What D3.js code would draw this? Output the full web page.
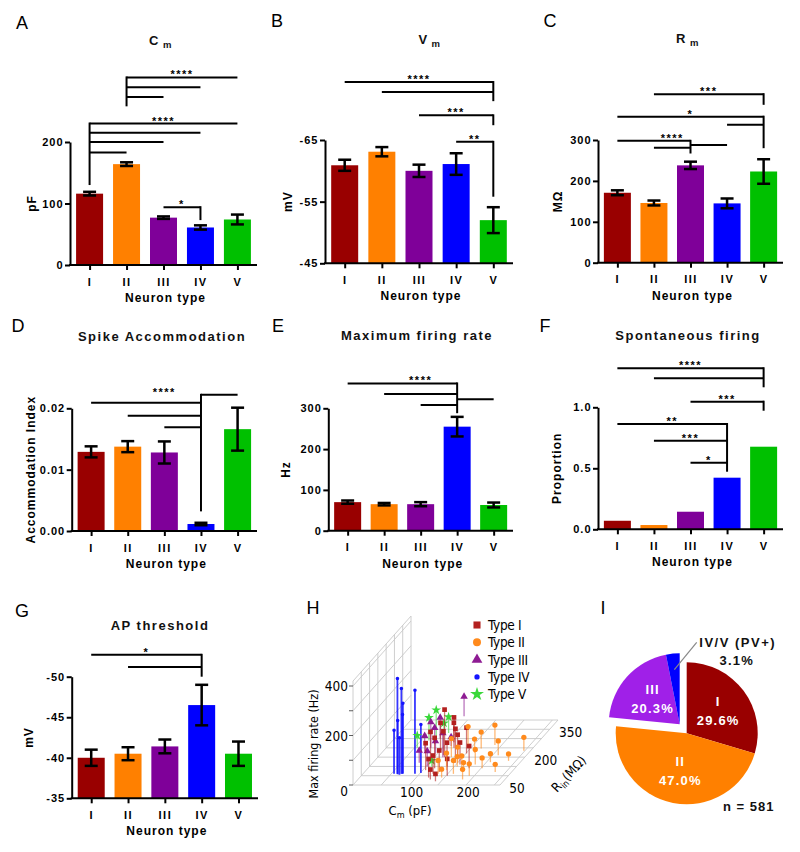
<!DOCTYPE html>
<html><head><meta charset="utf-8">
<script src="https://cdn.jsdelivr.net/npm/d3@7"></script>
<style>body{margin:0;background:#fff}svg{display:block}</style>
</head><body><svg id="c" width="800" height="852"></svg>
<script>
// ---------------- DATA ----------------
const neuronTypes = ["I","II","III","IV","V"];
const barColors = ["#990000","#FF8000","#7F0099","#0000FF","#00C000"];

const cmMean = [116,164,77,61,74], cmErr = [3,3,2,3.5,8];
const vmMean = [-60.9,-63.1,-60.0,-61.1,-52.0], vmErr = [0.9,0.75,1.0,1.75,2.1];
const rmMean = [171,146,238,145,223], rmErr = [6,6,9,12,30];
const accMean = [0.0129,0.01375,0.0128,0.00114,0.0166], accErr = [0.0009,0.0009,0.0018,0.0002,0.0035];
const rateMean = [70,65,65,255,63], rateErr = [4,3,5,24,6];
const propMean = [0.07,0.035,0.144,0.423,0.677];
const thrMean = [-40.0,-40.5,-41.4,-46.5,-40.5], thrErr = [1.0,0.8,0.85,2.5,1.5];

const cmTicks = [0,100,200];
const vmTicks = [-65,-55,-45];
const rmTicks = [0,100,200,300];
const accTicks = [0,0.01,0.02];
const rateTicks = [0,100,200,300];
const propTicks = [0,0.5,1.0];
const thrTicks = [-50,-45,-40,-35];

// significance brackets: ref bar, lower end of its vertical, [target, level, (own label)]
const cmSig = [
  {ref:"II", bottom:258, lines:[["V",305],["IV",289],["III",273]], label:"****"},
  {ref:"I", bottom:130, lines:[["V",230],["IV",215],["III",200],["II",183]], label:"****"},
  {ref:"IV", bottom:73, lines:[["III",94]], label:"*"}
];
const vmSig = [
  {ref:"V", bottom:-71.3, lines:[["I",-74.4],["II",-72.8]], label:"****"},
  {ref:"V", bottom:-67.4, lines:[["III",-69.0]], label:"***"},
  {ref:"V", bottom:-55.8, lines:[["IV",-64.7]], label:"**"}
];
const rmSig = [
  {ref:"V", bottom:386, lines:[["II",412]], label:"***"},
  {ref:"V", bottom:280, lines:[["I",357],["IV",337]], label:"*"},
  {ref:"III", bottom:267, lines:[["I",298],["II",281],["IV",288]], label:"****"}
];
const accSig = [
  {ref:"IV", bottom:0.0032, lines:[["V",0.0222],["I",0.0209],["II",0.0188],["III",0.0169]], label:"****"}
];
const rateSig = [
  {ref:"IV", bottom:288, lines:[["I",361],["II",335],["V",322],["III",308]], label:"****"}
];
const propSig = [
  {ref:"V", bottom:1.164, lines:[["I",1.32],["II",1.238]], label:"****"},
  {ref:"V", bottom:0.972, lines:[["III",1.046]], label:"***"},
  {ref:"IV", bottom:0.472, lines:[["I",0.863,"**"],["II",0.726,"***"],["III",0.546,"*"]]}
];
const thrSig = [
  {ref:"IV", bottom:-50.0, lines:[["I",-52.7],["II",-51.2]], label:"*"}
];

// Panel H: [Cm (pF), Rin (MOhm), max firing rate (Hz)]
const typeNames = ["Type I","Type II","Type III","Type IV","Type V"];
const typeColors = ["#B3201F","#FF8A1C","#8E1B93","#1414FF","#3AD83A"];
const typeI_pts = [[118,150,192],[146,120,137],[151,170,104],[118,90,123],[137,100,96],[132,70,87],[99,130,117],[120,200,123],[102,180,116],[157,110,89],[105,80,109],[152,50,68],[124,60,74],[144,140,98],[179,90,90],[113,160,97],[122,40,75],[111,230,79],[128,30,40],[140,20,30]];
const typeII_pts = [[188,215,81],[248,185,54],[207,123,34],[169,197,66],[164,174,55],[139,220,71],[142,80,69],[160,60,54],[166,90,50],[191,50,48],[145,40,34],[150,120,63],[184,110,61],[185,30,41],[202,90,42],[130,150,75],[133,60,54],[231,70,31],[237,130,28],[155,100,40],[175,70,38],[210,160,58]];
const typeIII_pts = [[88,370,80],[79,200,104],[80,220,66],[115,150,97],[82,120,49],[102,100,62],[81,250,85],[74,180,64],[112,210,36],[96,170,50]];
const typeIV_pts = [[55,60,176],[61,60,385],[68,60,345],[70,60,240],[70,62,284],[92,60,338],[101,65,196],[62,58,217],[66,55,150]];
const typeV_pts = [[71,260,108],[64,240,92],[87,280,65],[55,200,50],[110,100,24],[73,300,25]];
const hZTicks = [0,100,200,300,400], hZLabels = [0,200,400];
const hXLabels = [100,200];
const hYLabels = [50,200,350];

// Panel I
const pieNames = ["I","II","III","IV/V (PV+)"];
const pieValues = [29.6,47.0,20.3,3.1];
const pieColors = ["#990000","#FF8000","#A020E8","#0000FF"];
const pieN = 581;

// ---------------- DRAW ----------------
const FONT = '"Liberation Sans", Arial, sans-serif';
const NARROW = '"Liberation Sans Narrow", "Arial Narrow", "DejaVu Sans Condensed", sans-serif';
const svg = d3.select("#c").style("font-family", FONT);

const panels = [
  {letter:"A", lx:22, ly:22, title:["C","m"], tx:161, ty:44.5, yLabel:"pF", ylx:31, x0:70, x1:257, yb:265, yt:142, domain:[0,200], ticks:cmTicks, fmt:String, means:cmMean, errs:cmErr, sig:cmSig},
  {letter:"B", lx:277, ly:20, title:["V","m"], tx:430, ty:43.5, yLabel:"mV", ylx:287, x0:325, x1:513, yb:263.3, yt:140, domain:[-45,-65], ticks:vmTicks, fmt:String, means:vmMean, errs:vmErr, sig:vmSig},
  {letter:"C", lx:550, ly:20, title:["R","m"], tx:688, ty:42.5, yLabel:"MΩ", ylx:557, x0:598, x1:783, yb:262.7, yt:140, domain:[0,300], ticks:rmTicks, fmt:String, means:rmMean, errs:rmErr, sig:rmSig},
  {letter:"D", lx:18, ly:325, title:["Spike Accommodation"], tx:162, ty:340.5, yLabel:"Accommodation Index", ylx:30, x0:71.7, x1:257, yb:531, yt:408.3, domain:[0,0.02], ticks:accTicks, fmt:d3.format(".2f"), means:accMean, errs:accErr, sig:accSig},
  {letter:"E", lx:278, ly:325, title:["Maximum firing rate"], tx:417, ty:339.5, yLabel:"Hz", ylx:285, x0:328.3, x1:513, yb:530.7, yt:408.3, domain:[0,300], ticks:rateTicks, fmt:String, means:rateMean, errs:rateErr, sig:rateSig},
  {letter:"F", lx:545, ly:325, title:["Spontaneous firing"], tx:688, ty:339.5, yLabel:"Proportion", ylx:556, x0:598, x1:783, yb:529.3, yt:407.3, domain:[0,1], ticks:propTicks, fmt:d3.format(".1f"), means:propMean, errs:null, sig:propSig},
  {letter:"G", lx:22, ly:610, title:["AP threshold"], tx:160, ty:629.5, yLabel:"mV", ylx:28.5, x0:71.7, x1:258, yb:798.3, yt:676.7, domain:[-35,-50], ticks:thrTicks, fmt:String, means:thrMean, errs:thrErr, sig:thrSig}
];

function panelLetter(t, x, y) {
  svg.append("text").attr("x", x).attr("y", y + 6.5).attr("text-anchor","middle")
    .attr("font-size", 18).attr("fill","#000").text(t);
}

function drawBarPanel(p) {
  const g = svg.append("g");
  panelLetter(p.letter, p.lx, p.ly);
  const y = d3.scaleLinear().domain(p.domain).range([p.yb, p.yt]);
  const x = d3.scalePoint().domain(neuronTypes).range([p.x0, p.x1]).padding(0.53);
  const bw = 27, base = p.domain[0];

  // title
  const tt = g.append("text").attr("x", p.tx).attr("y", p.ty).attr("text-anchor","middle")
    .attr("font-size", 13).attr("font-weight","bold").attr("letter-spacing", 1.5).attr("fill","#111");
  tt.append("tspan").text(p.title[0]);
  if (p.title[1]) tt.append("tspan").attr("dx", 3).attr("dy", 3).attr("font-size", 9.5).text(p.title[1]);

  // bars
  g.selectAll("rect.bar").data(p.means).join("rect").attr("class","bar")
    .attr("x", (d,i) => x(neuronTypes[i]) - bw/2).attr("width", bw)
    .attr("y", d => Math.min(y(d), y(base))).attr("height", d => Math.abs(y(base) - y(d)))
    .attr("fill", (d,i) => barColors[i]);

  // error bars
  if (p.errs) {
    p.means.forEach((m, i) => {
      const cx = x(neuronTypes[i]), e = p.errs[i];
      const eg = g.append("g").attr("stroke","#000").attr("stroke-width", 2.5);
      eg.append("line").attr("x1",cx).attr("x2",cx).attr("y1",y(m-e)).attr("y2",y(m+e));
      eg.append("line").attr("x1",cx-6.5).attr("x2",cx+6.5).attr("y1",y(m-e)).attr("y2",y(m-e));
      eg.append("line").attr("x1",cx-6.5).attr("x2",cx+6.5).attr("y1",y(m+e)).attr("y2",y(m+e));
    });
  }

  // y axis
  const ya = g.append("g").attr("transform", `translate(${p.x0},0)`)
    .call(d3.axisLeft(y).tickValues(p.ticks).tickFormat(p.fmt).tickSize(5).tickSizeOuter(0).tickPadding(1.5));
  ya.select(".domain").attr("stroke-width", 2);
  ya.selectAll(".tick line").attr("stroke-width", 2);
  ya.selectAll(".tick text").attr("font-size", 11).attr("font-weight","bold").attr("letter-spacing", 1)
    .attr("font-family", FONT);

  // x axis
  const xa = g.append("g").attr("transform", `translate(0,${p.yb})`)
    .call(d3.axisBottom(x).tickSize(5).tickSizeOuter(0).tickPadding(8));
  xa.select(".domain").attr("stroke-width", 2).attr("d", `M${p.x0-1},0H${p.x1}`);
  xa.selectAll(".tick line").attr("stroke-width", 2);
  xa.selectAll(".tick text").attr("font-size", 11).attr("font-weight","bold").attr("letter-spacing", 1.5)
    .attr("font-family", FONT);

  g.append("text").attr("x", (p.x0 + p.x1)/2 + 2).attr("y", p.yb + 37).attr("text-anchor","middle")
    .attr("font-size", 12).attr("font-weight","bold").attr("letter-spacing", 1).text("Neuron type");

  g.append("text").attr("transform", `translate(${p.ylx + 4.5},${(p.yb + p.yt)/2}) rotate(-90)`)
    .attr("text-anchor","middle").attr("font-size", 12).attr("font-weight","bold").attr("letter-spacing", 1)
    .text(p.yLabel);

  // significance
  const sg = g.append("g");
  (p.sig || []).forEach(s => {
    const xr = x(s.ref);
    const ys = s.lines.map(l => y(l[1]));
    const top = d3.min(ys);
    sg.append("line").attr("x1",xr).attr("x2",xr).attr("y1",top - 1).attr("y2",y(s.bottom))
      .attr("stroke","#000").attr("stroke-width",2);
    const xs = [xr];
    s.lines.forEach(l => {
      const xt = x(l[0]);
      xs.push(xt);
      sg.append("line").attr("x1",xr).attr("x2",xt).attr("y1",y(l[1])).attr("y2",y(l[1]))
        .attr("stroke","#000").attr("stroke-width",2);
      if (l[2]) {
        sg.append("text").attr("x",(xr+xt)/2).attr("y",y(l[1]) + 1).attr("text-anchor","middle")
          .attr("font-size",11).attr("font-weight","bold").attr("letter-spacing",1.5).text(l[2]);
      }
    });
    if (s.label) {
      sg.append("text").attr("x",(d3.min(xs)+d3.max(xs))/2).attr("y",top + 1).attr("text-anchor","middle")
        .attr("font-size",11).attr("font-weight","bold").attr("letter-spacing",1.5).text(s.label);
    }
  });
}
panels.forEach(drawBarPanel);

// ---------------- Panel H (3D stem plot) ----------------
(function(){
  panelLetter("H", 313, 607);
  const g = svg.append("g").style("font-family", NARROW);
  const hx = d3.scaleLinear().domain([0,260]).range([0,147]);
  const hy = d3.scaleLinear().domain([0,350]).range([0,1]);
  const hz = d3.scaleLinear().domain([0,400]).range([0,99]);
  const O = [353,785], EY = [58,-65];
  const P = (cm, rin, z) => { const t = hy(rin); return [O[0] + hx(cm) + EY[0]*t, O[1] + EY[1]*t - hz(z)]; };
  const line = (a, b, stroke, w, op) => g.append("line").attr("x1",a[0]).attr("y1",a[1]).attr("x2",b[0]).attr("y2",b[1])
    .attr("stroke",stroke).attr("stroke-width",w).attr("stroke-opacity",op == null ? 1 : op);
  const grid = "#c8c8c8";
  const zTop = 420;
  // left wall (Cm = 0)
  d3.range(0, 351, 50).forEach(r => line(P(0,r,0), P(0,r,zTop), grid, 0.9));
  d3.range(100, 401, 100).forEach(z => line(P(0,0,z), P(0,350,z), grid, 0.9));
  line(P(0,0,zTop), P(0,350,zTop), grid, 0.9);
  // floor
  d3.range(0, 251, 50).forEach(c => line(P(c,0,0), P(c,350,0), grid, 0.9));
  line(P(260,0,0), P(260,350,0), grid, 0.9);
  d3.range(0, 351, 50).forEach(r => line(P(0,r,0), P(260,r,0), grid, 0.9));
  // axis ticks
  hZTicks.forEach(z => { const q = P(0,0,z); line([q[0]-4,q[1]], q, "#333", 0.8); });
  hZLabels.forEach(z => { const q = P(0,0,z);
    g.append("text").attr("x", q[0]-5).attr("y", q[1] + (z === 0 ? 11 : 5)).attr("text-anchor","end")
      .attr("font-size", 13.5).text(z); });
  hXLabels.forEach(c => { const q = P(c,0,0);
    g.append("text").attr("x", q[0]+2).attr("y", q[1]+12).attr("text-anchor","middle").attr("font-size",13.5).text(c); });
  hYLabels.forEach(r => { const q = P(260,r,0);
    g.append("text").attr("x", q[0]+1).attr("y", q[1]+16.8).attr("text-anchor","start").attr("font-size",13.5).text(r); });
  // axis titles
  g.append("text").attr("transform","translate(317.5,744) rotate(-90)").attr("text-anchor","middle")
    .attr("font-size",12.5).text("Max firing rate (Hz)");
  const ct = g.append("text").attr("x",410).attr("y",815).attr("text-anchor","middle").attr("font-size",13);
  ct.append("tspan").text("C");
  ct.append("tspan").attr("dy",3).attr("font-size",9).text("m");
  ct.append("tspan").attr("dy",-3).text(" (pF)");
  const rt = g.append("text").attr("transform","translate(572,777) rotate(-47)").attr("text-anchor","middle").attr("font-size",13);
  rt.append("tspan").text("R");
  rt.append("tspan").attr("dy",3).attr("font-size",9).text("in");
  rt.append("tspan").attr("dy",-3).text("(MΩ)");

  const symbols = [d3.symbolSquare, d3.symbolCircle, d3.symbolTriangle, d3.symbolCircle, d3.symbolStar];
  const symSize = [22, 22, 24, 10, 30];
  const sets = [typeI_pts, typeII_pts, typeIII_pts, typeIV_pts, typeV_pts];
  const order = [3, 4, 2, 0, 1];
  order.forEach(k => {
    sets[k].forEach(d => {
      const b = P(d[0], d[1], 0), t = P(d[0], d[1], d[2]);
      line(b, t, typeColors[k], k === 3 ? 1.8 : 1.3, k === 3 ? 0.85 : 0.6);
      g.append("path").attr("d", d3.symbol(symbols[k], symSize[k])())
        .attr("transform", `translate(${t[0]},${t[1]})`).attr("fill", typeColors[k]);
    });
  });
  // legend
  const legSize = [50, 50, 50, 22, 60];
  typeNames.forEach((n, k) => {
    const yy = 625 + k * 17.3;
    g.append("path").attr("d", d3.symbol(symbols[k], legSize[k])()).attr("transform", `translate(477,${yy})`)
      .attr("fill", typeColors[k]);
    g.append("text").attr("x", 488).attr("y", yy + 5).attr("font-size", 13.5).attr("letter-spacing",-0.3).text(n);
  });
})();

// ---------------- Panel I (pie) ----------------
(function(){
  panelLetter("I", 603, 607);
  const cx = 686.7, cy = 733.3, R = 71;
  const g = svg.append("g").attr("transform", `translate(${cx},${cy})`);
  const arcs = d3.pie().sort(null).value(d => d)(pieValues);
  const arc = d3.arc().innerRadius(0).outerRadius(R);
  const labelArc = d3.arc().innerRadius(38).outerRadius(38);
  const explode = [0, 0, 1, 1];
  arcs.forEach((a, i) => {
    const off = explode[i] ? [-7, -9] : [0, 0];
    const sg = g.append("g").attr("transform", `translate(${off[0]},${off[1]})`);
    sg.append("path").attr("d", arc(a)).attr("fill", pieColors[i]);
    if (i < 3) {
      const c = labelArc.centroid(a);
      sg.append("text").attr("x", c[0] + 1).attr("y", c[1] - 5).attr("text-anchor","middle").attr("fill","#fff")
        .attr("font-size", 13).attr("font-weight","bold").attr("letter-spacing", 1.2).text(pieNames[i]);
      sg.append("text").attr("x", c[0] + 1).attr("y", c[1] + 14).attr("text-anchor","middle").attr("fill","#fff")
        .attr("font-size", 13).attr("font-weight","bold").attr("letter-spacing", 1.2).text(pieValues[i].toFixed(1) + "%");
    } else {
      const c = d3.arc().innerRadius(55).outerRadius(55).centroid(a);
      sg.append("line").attr("x1", c[0]).attr("y1", c[1]).attr("x2", 17).attr("y2", -82)
        .attr("stroke", "#888").attr("stroke-width", 1.2);
      g.append("text").attr("x", 51).attr("y", -86).attr("text-anchor","middle").attr("fill","#111")
        .attr("font-size", 13).attr("font-weight","bold").attr("letter-spacing", 1.5).text(pieNames[i]);
      g.append("text").attr("x", 50).attr("y", -68.5).attr("text-anchor","middle").attr("fill","#111")
        .attr("font-size", 13).attr("font-weight","bold").attr("letter-spacing", 1.2).text(pieValues[i].toFixed(1) + "%");
    }
  });
  g.append("text").attr("x", 62).attr("y", 77.5).attr("text-anchor","middle").attr("fill","#111")
    .attr("font-size", 13).attr("font-weight","bold").attr("letter-spacing", 1).text("n = " + pieN);
})();
</script>
</body></html>
